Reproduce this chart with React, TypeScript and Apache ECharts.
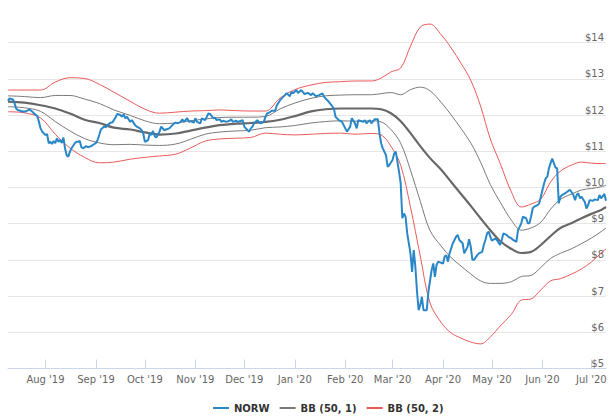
import React, { useEffect, useRef } from 'react';
import * as echarts from 'echarts';

const norwDates = [
  '2019-07-09','2019-07-10','2019-07-12','2019-07-13','2019-07-14','2019-07-15','2019-07-17','2019-07-19','2019-07-21','2019-07-22',
  '2019-07-24','2019-07-25','2019-07-27','2019-07-28','2019-07-29','2019-07-30','2019-08-01','2019-08-02','2019-08-03','2019-08-04',
  '2019-08-05','2019-08-06','2019-08-07','2019-08-08','2019-08-09','2019-08-10','2019-08-11','2019-08-12','2019-08-13','2019-08-14',
  '2019-08-15','2019-08-16','2019-08-17','2019-08-19','2019-08-20','2019-08-21','2019-08-22','2019-08-23','2019-08-24','2019-08-26',
  '2019-08-27','2019-08-29','2019-08-31','2019-09-01','2019-09-02','2019-09-03','2019-09-04','2019-09-06','2019-09-07','2019-09-08',
  '2019-09-10','2019-09-11','2019-09-13','2019-09-14','2019-09-16','2019-09-17','2019-09-18','2019-09-19','2019-09-20','2019-09-22',
  '2019-09-23','2019-09-25','2019-09-26','2019-09-28','2019-09-29','2019-09-30','2019-10-01','2019-10-03','2019-10-04','2019-10-05',
  '2019-10-06','2019-10-07','2019-10-08','2019-10-10','2019-10-11','2019-10-13','2019-10-14','2019-10-16','2019-10-17','2019-10-19',
  '2019-10-20','2019-10-21','2019-10-23','2019-10-24','2019-10-25','2019-10-27','2019-10-28','2019-10-29','2019-10-31','2019-11-01',
  '2019-11-02','2019-11-04','2019-11-05','2019-11-07','2019-11-08','2019-11-09','2019-11-10','2019-11-12','2019-11-13','2019-11-14',
  '2019-11-16','2019-11-17','2019-11-18','2019-11-20','2019-11-22','2019-11-23','2019-11-24','2019-11-26','2019-11-27','2019-11-29',
  '2019-11-30','2019-12-01','2019-12-03','2019-12-04','2019-12-05','2019-12-06','2019-12-07','2019-12-09','2019-12-10','2019-12-11',
  '2019-12-13','2019-12-14','2019-12-15','2019-12-17','2019-12-18','2019-12-20','2019-12-21','2019-12-23','2019-12-24','2019-12-26',
  '2019-12-27','2019-12-29','2019-12-30','2019-12-31','2020-01-02','2020-01-03','2020-01-05','2020-01-07','2020-01-09','2020-01-11',
  '2020-01-12','2020-01-14','2020-01-16','2020-01-18','2020-01-19','2020-01-21','2020-01-23','2020-01-25','2020-01-26','2020-01-28',
  '2020-01-30','2020-02-01','2020-02-02','2020-02-04','2020-02-05','2020-02-07','2020-02-08','2020-02-09','2020-02-12','2020-02-13',
  '2020-02-14','2020-02-16','2020-02-17','2020-02-19','2020-02-21','2020-02-22','2020-02-23','2020-02-24','2020-02-26','2020-02-27',
  '2020-02-28','2020-03-01','2020-03-02','2020-03-03','2020-03-05','2020-03-06','2020-03-07','2020-03-08','2020-03-09','2020-03-10',
  '2020-03-12','2020-03-13','2020-03-14','2020-03-15','2020-03-16','2020-03-17','2020-03-18','2020-03-19','2020-03-20','2020-03-22',
  '2020-03-23','2020-03-25','2020-03-26','2020-03-27','2020-03-28','2020-03-29','2020-04-01','2020-04-02','2020-04-03','2020-04-04',
  '2020-04-05','2020-04-06','2020-04-07','2020-04-09','2020-04-10','2020-04-11','2020-04-13','2020-04-14','2020-04-16','2020-04-17',
  '2020-04-18','2020-04-19','2020-04-20','2020-04-22','2020-04-23','2020-04-25','2020-04-26','2020-04-27','2020-04-28','2020-04-29',
  '2020-04-30','2020-05-01','2020-05-03','2020-05-04','2020-05-06','2020-05-07','2020-05-08','2020-05-10','2020-05-11','2020-05-13',
  '2020-05-14','2020-05-16','2020-05-17','2020-05-18','2020-05-19','2020-05-20','2020-05-22','2020-05-23','2020-05-24','2020-05-25',
  '2020-05-26','2020-05-27','2020-05-29','2020-05-30','2020-05-31','2020-06-01','2020-06-02','2020-06-03','2020-06-04','2020-06-05',
  '2020-06-06','2020-06-07','2020-06-08','2020-06-09','2020-06-10','2020-06-11','2020-06-12','2020-06-13','2020-06-15','2020-06-17',
  '2020-06-18','2020-06-20','2020-06-21','2020-06-22','2020-06-23','2020-06-24','2020-06-25','2020-06-27','2020-06-28','2020-06-29',
  '2020-06-30','2020-07-02','2020-07-03','2020-07-05','2020-07-06','2020-07-07','2020-07-09','2020-07-10'
];

const norwClose = [
  12.39,12.46,12.43,12.32,12.18,12.14,12.11,12.09,12.12,12.16,
  12.09,12.04,11.97,11.81,11.63,11.54,11.45,11.47,11.22,11.26,
  11.20,11.28,11.22,11.36,11.26,11.31,11.23,11.38,11.08,10.89,
  10.85,10.99,11.08,11.22,11.26,11.26,11.29,11.12,11.08,11.14,
  11.11,11.14,11.20,11.23,11.31,11.45,11.60,11.68,11.66,11.72,
  11.79,11.79,11.93,12.03,12.00,11.95,12.02,11.91,11.95,11.81,
  11.86,11.72,11.68,11.63,11.58,11.49,11.26,11.31,11.49,11.45,
  11.56,11.42,11.38,11.54,11.68,11.58,11.60,11.63,11.68,11.77,
  11.79,11.77,11.81,11.88,11.81,11.91,11.81,11.83,11.79,11.91,
  11.81,11.77,11.91,11.86,11.95,12.04,12.03,11.91,11.93,11.86,
  11.88,11.81,11.84,11.81,11.84,11.88,11.81,11.84,11.81,11.84,
  11.86,11.68,11.58,11.54,11.63,11.68,11.77,11.86,11.81,11.77,
  11.81,11.95,12.04,12.09,12.12,12.12,12.27,12.41,12.46,12.55,
  12.60,12.52,12.64,12.60,12.69,12.61,12.69,12.58,12.61,12.55,
  12.60,12.52,12.55,12.60,12.50,12.41,12.30,12.18,11.95,11.86,
  11.81,11.63,11.54,11.68,11.91,11.77,11.63,11.86,11.81,11.86,
  11.77,11.86,11.77,11.88,11.88,11.49,11.22,11.08,10.89,10.57,
  10.62,10.76,10.94,10.99,10.43,10.11,9.15,9.28,9.19,8.73,
  8.18,7.67,8.27,7.81,7.14,6.61,6.75,6.98,6.61,6.61,
  7.12,7.72,7.90,7.53,7.86,7.95,7.90,8.09,8.13,7.95,
  8.18,8.32,8.46,8.64,8.69,8.55,8.46,8.18,8.36,8.57,
  8.36,8.00,8.00,8.13,8.18,8.22,8.41,8.55,8.73,8.78,
  8.64,8.53,8.59,8.55,8.41,8.55,8.73,8.69,8.64,8.59,
  8.55,8.50,8.82,8.91,9.01,9.19,9.15,9.01,9.01,9.19,
  9.42,9.47,9.51,9.56,9.74,9.93,10.11,10.25,10.30,10.53,
  10.67,10.80,10.67,10.55,10.53,9.56,9.74,9.79,9.84,9.91,
  9.93,9.79,9.65,9.79,9.84,9.70,9.74,9.60,9.42,9.51,
  9.65,9.63,9.67,9.65,9.79,9.70,9.82,9.63
];

const bandDates = [
  '2019-07-09','2019-07-19','2019-07-29','2019-08-07','2019-08-16','2019-08-25','2019-09-03','2019-09-12','2019-09-22','2019-10-01',
  '2019-10-10','2019-10-20','2019-10-29','2019-11-07','2019-11-16','2019-11-26','2019-12-05','2019-12-14','2019-12-23','2020-01-01',
  '2020-01-11','2020-01-20','2020-01-29','2020-02-07','2020-02-17','2020-02-23','2020-02-29','2020-03-06','2020-03-12','2020-03-18',
  '2020-03-24','2020-03-31','2020-04-06','2020-04-12','2020-04-18','2020-04-24','2020-04-30','2020-05-06','2020-05-13','2020-05-19',
  '2020-05-25','2020-05-31','2020-06-06','2020-06-12','2020-06-19','2020-06-25','2020-07-01','2020-07-07','2020-07-10'
];

const bbMiddle = [
  12.37,12.34,12.27,12.18,12.04,11.87,11.78,11.65,11.60,11.52,
  11.46,11.49,11.57,11.65,11.72,11.76,11.78,11.81,11.87,11.97,
  12.10,12.16,12.18,12.18,12.18,12.16,12.05,11.83,11.50,11.14,
  10.81,10.48,10.15,9.82,9.49,9.15,8.82,8.52,8.30,8.19,
  8.22,8.41,8.66,8.88,9.02,9.15,9.27,9.38,9.46
];

const bbUpper1 = [
  12.53,12.51,12.48,12.54,12.54,12.44,12.32,12.14,11.99,11.84,
  11.76,11.78,11.84,11.89,11.93,11.94,11.94,11.96,12.17,12.33,
  12.46,12.53,12.55,12.56,12.56,12.59,12.62,12.56,12.70,12.77,
  12.67,12.34,12.00,11.63,11.23,10.70,10.08,9.60,9.09,8.82,
  8.88,9.04,9.40,9.67,9.82,9.93,9.97,10.02,10.06
];

const bbLower1 = [
  12.23,12.20,12.10,11.82,11.56,11.35,11.23,11.18,11.19,11.17,
  11.16,11.20,11.33,11.47,11.53,11.56,11.58,11.65,11.67,11.71,
  11.78,11.82,11.84,11.83,11.84,11.81,11.60,11.22,10.48,9.62,
  8.81,8.37,8.06,7.83,7.61,7.42,7.35,7.35,7.40,7.54,
  7.57,7.79,8.04,8.18,8.31,8.45,8.60,8.78,8.88
];

const bbUpper2 = [
  12.69,12.69,12.69,12.91,13.03,13.01,12.85,12.63,12.38,12.16,
  12.05,12.08,12.11,12.12,12.14,12.12,12.11,12.11,12.47,12.70,
  12.83,12.90,12.92,12.94,12.94,13.02,13.19,13.30,13.90,14.43,
  14.51,14.21,13.85,13.43,12.96,12.25,11.34,10.67,9.87,9.46,
  9.54,9.68,10.15,10.45,10.62,10.70,10.67,10.66,10.66
];

const bbLower2 = [
  12.09,12.06,11.92,11.47,11.09,10.83,10.68,10.70,10.78,10.83,
  10.87,10.92,11.09,11.28,11.34,11.36,11.38,11.50,11.47,11.45,
  11.47,11.49,11.50,11.47,11.49,11.45,11.14,10.61,9.46,8.11,
  6.81,6.26,5.98,5.84,5.73,5.68,5.87,6.17,6.50,6.89,
  6.92,7.17,7.42,7.48,7.61,7.75,7.94,8.19,8.30
];

const monthNames = ['Jan','Feb','Mar','Apr','May','Jun','Jul','Aug','Sep','Oct','Nov','Dec'];
const legendNames = ['NORW', 'BB (50, 1)', 'BB (50, 2)'];

const FONT = 'DejaVu Sans';
const BLUE = '#2a87c7';
const GRAY = '#7a7a7a';
const DARK = '#686868';
const RED = '#ea5a5a';

export default function App() {
  const ref = useRef<HTMLDivElement>(null);

  useEffect(() => {
    if (!ref.current) return;
    const chart = echarts.init(ref.current, null, { renderer: 'svg' });
    const pair = (dates: string[], vals: number[]) => dates.map((d, i) => [d, vals[i]]);
    const band = (name: string, vals: number[], color: string, width: number, z: number) => ({
      type: 'line',
      name,
      data: pair(bandDates, vals),
      showSymbol: false,
      smooth: 0.35,
      lineStyle: { color, width },
      itemStyle: { color },
      z,
      silent: true,
    });

    chart.setOption({
      animation: false,
      grid: { left: 8, right: 4, top: 10, bottom: 47.5 },
      xAxis: {
        type: 'time',
        min: '2019-07-09',
        max: '2020-07-10',
        minInterval: 28 * 86400000,
        maxInterval: 31 * 86400000,
        axisLine: { lineStyle: { color: '#ccd6eb', width: 1 } },
        axisTick: { inside: true, length: 9, lineStyle: { color: '#ccd6eb' } },
        splitLine: { show: false },
        axisLabel: {
          color: '#666666',
          fontSize: 10,
          fontFamily: FONT,
          margin: 6,
          formatter: (v: number) => {
            const d = new Date(v);
            return monthNames[d.getMonth()] + " '" + String(d.getFullYear()).slice(2);
          },
        },
      },
      yAxis: {
        type: 'value',
        position: 'right',
        min: 5,
        max: 14.9,
        interval: 1,
        axisLine: { show: false },
        axisTick: { show: false },
        splitLine: { show: true, showMaxLine: false, lineStyle: { color: '#e6e6e6', width: 1 } },
        axisLabel: {
          inside: true,
          margin: 2,
          verticalAlign: 'bottom',
          color: '#666666',
          fontSize: 10,
          fontFamily: FONT,
          showMaxLabel: false,
          formatter: (v: number) => '$' + v,
        },
      },
      legend: {
        data: legendNames,
        left: 208,
        top: 398,
        icon: 'rect',
        itemWidth: 16,
        itemHeight: 2,
        itemGap: 10,
        lineStyle: { width: 2 },
        textStyle: { fontFamily: FONT, fontSize: 10, fontWeight: 'bold', color: '#333333' },
        selectedMode: false,
      },
      series: [
        band('BB (50, 2)', bbUpper2, RED, 1, 1),
        band('BB (50, 2)', bbLower2, RED, 1, 1),
        band('BB (50, 1)', bbUpper1, GRAY, 1, 2),
        band('BB (50, 1)', bbLower1, GRAY, 1, 2),
        band('BB (50, 1)', bbMiddle, DARK, 2.2, 3),
        {
          type: 'line',
          name: 'NORW',
          data: pair(norwDates, norwClose),
          showSymbol: false,
          lineStyle: { color: BLUE, width: 2 },
          itemStyle: { color: BLUE },
          z: 5,
        },
      ],
    });

    return () => chart.dispose();
  }, []);

  return <div ref={ref} style={{ position: 'absolute', left: 0, top: 0, width: 610, height: 416 }} />;
}
